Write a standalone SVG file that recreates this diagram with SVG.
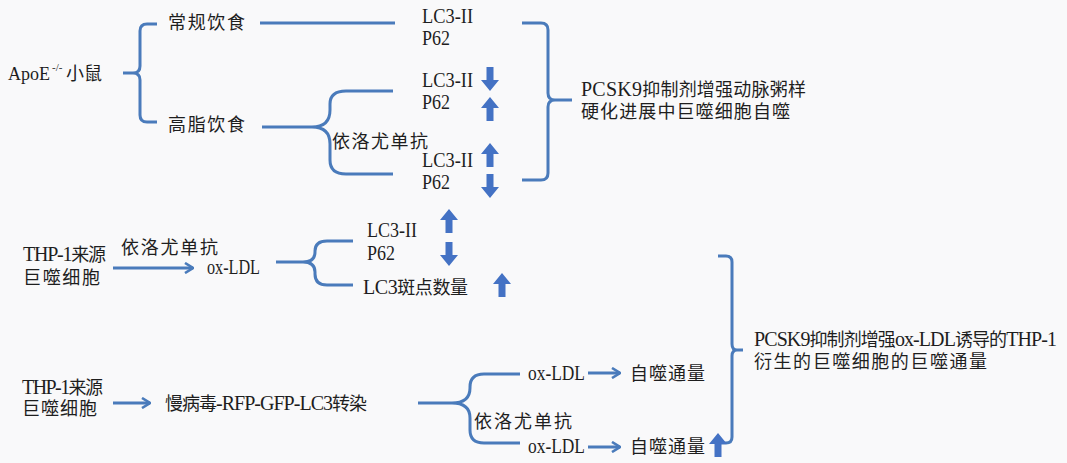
<svg xmlns="http://www.w3.org/2000/svg" width="1067" height="463" viewBox="0 0 1067 463">
<style>
.t{font-family:"Liberation Serif","Noto Sans CJK SC",serif;font-size:18px;fill:#1e1e1e}
.l{font-size:20px}
.br{fill:none;stroke:#4a7bbb;stroke-width:3;stroke-linecap:butt;stroke-linejoin:round}
.ln{fill:none;stroke:#4a7bbb;stroke-width:3}
.blk{fill:#4472c4}
</style>
<defs>
<marker id="chev" viewBox="0 0 10 12" refX="9" refY="6" markerWidth="10" markerHeight="12" markerUnits="userSpaceOnUse" orient="auto">
<path d="M1,1 L9,6 L1,11" fill="none" stroke="#4a7bbb" stroke-width="2.6"/>
</marker>
<path id="up" d="M-9,-1 L0,-12 L9,-1 H3.5 V12 H-3.5 V-1 Z"/>
<path id="down" d="M-9,1 L0,12 L9,1 H3.5 V-12 H-3.5 V1 Z"/>
</defs>
<rect width="1067" height="463" fill="#f9f9fa"/>

<g id="connectors">
<path class="br" d="M157,24 H147 Q140,24 140,31 V66 Q140,73 133,73 H123 M133,73 Q140,73 140,80 V115 Q140,122 147,122 H157"/>
<path class="ln" d="M260,23 H395"/>
<path class="br" d="M262,127 H312 Q330,127 330,110 V104 Q330,91 346,91 H393 M312,127 Q330,127 330,144 V160 Q330,174 346,174 H393"/>
<path class="br" d="M522,23 H541 Q548,23 548,30 V93 Q548,100 555,100 H572 M555,100 Q548,100 548,107 V173 Q548,180 541,180 H522"/>
<path class="ln" d="M113,268 H193" marker-end="url(#chev)"/>
<path class="br" d="M276,262 H303 Q315,262 315,252 V251 Q315,241 327,241 H353 M303,262 Q315,262 315,272 V274 Q315,285 327,285 H353"/>
<path class="ln" d="M113,403 H150" marker-end="url(#chev)"/>
<path class="br" d="M418,403 H452 Q470,403 470,388 V387 Q470,374 484,374 H520 M452,403 Q470,403 470,418 V430 Q470,443 484,443 H520"/>
<path class="ln" d="M588,373 H620" marker-end="url(#chev)"/>
<path class="ln" d="M588,447 H620" marker-end="url(#chev)"/>
<path class="br" d="M718,256 H726 Q732,256 732,262 V344 Q732,350 737,350 H743 M737,350 Q732,350 732,356 V437 Q732,443 726,443 H721"/>
</g>

<g id="arrows">
<use href="#down" class="blk" x="490" y="79"/>
<use href="#up" class="blk" x="490" y="109"/>
<use href="#up" class="blk" x="490" y="155"/>
<use href="#down" class="blk" x="490" y="186"/>
<use href="#up" class="blk" x="449" y="221"/>
<use href="#down" class="blk" x="449" y="254"/>
<use href="#up" class="blk" x="502" y="285"/>
<use href="#up" class="blk" x="718" y="445"/>
</g>

<g id="n-apoe"><text class="t" x="8" y="80">ApoE<tspan x="52" y="71" style="font-size:11px">-/-</tspan><tspan x="66" y="80" textLength="36">小鼠</tspan></text></g>
<g id="n-normal"><text class="t" x="168" y="29" textLength="77">常规饮食</text></g>
<g id="n-highfat"><text class="t" x="168" y="131" textLength="77">高脂饮食</text></g>
<g id="n-evo1"><text class="t" x="332" y="148" textLength="96">依洛尤单抗</text></g>
<g id="n-r1">
<text class="t l" x="422" y="23" textLength="51" lengthAdjust="spacingAndGlyphs">LC3-II</text>
<text class="t l" x="422" y="45" textLength="28" lengthAdjust="spacingAndGlyphs">P62</text>
</g>
<g id="n-r2">
<text class="t l" x="422" y="87" textLength="51" lengthAdjust="spacingAndGlyphs">LC3-II</text>
<text class="t l" x="422" y="109" textLength="28" lengthAdjust="spacingAndGlyphs">P62</text>
</g>
<g id="n-r3">
<text class="t l" x="422" y="167" textLength="51" lengthAdjust="spacingAndGlyphs">LC3-II</text>
<text class="t l" x="422" y="189" textLength="28" lengthAdjust="spacingAndGlyphs">P62</text>
</g>
<g id="n-concl1">
<text class="t" x="581" y="96" textLength="225"><tspan class="l">PCSK9</tspan>抑制剂增强动脉粥样</text>
<text class="t" x="581" y="118" textLength="209">硬化进展中巨噬细胞自噬</text>
</g>

<g id="n-thp1">
<text class="t" x="23" y="261" textLength="83"><tspan class="l">THP-1</tspan>来源</text>
<text class="t" x="23" y="284" textLength="77">巨噬细胞</text>
</g>
<g id="n-evo2"><text class="t" x="121" y="254" textLength="97">依洛尤单抗</text></g>
<g id="n-oxldl1"><text class="t l" x="207" y="274" textLength="53" lengthAdjust="spacingAndGlyphs">ox-LDL</text></g>
<g id="n-r4">
<text class="t l" x="367" y="237" textLength="50" lengthAdjust="spacingAndGlyphs">LC3-II</text>
<text class="t l" x="367" y="260" textLength="28" lengthAdjust="spacingAndGlyphs">P62</text>
<text class="t" x="363" y="294" textLength="105"><tspan class="l">LC3</tspan>斑点数量</text>
</g>

<g id="n-thp2">
<text class="t" x="22" y="394" textLength="81"><tspan class="l">THP-1</tspan>来源</text>
<text class="t" x="22" y="415" textLength="75">巨噬细胞</text>
</g>
<g id="n-lenti"><text class="t" x="165" y="410" textLength="202">慢病毒<tspan class="l">-RFP-GFP-LC3</tspan>转染</text></g>
<g id="n-evo3"><text class="t" x="474" y="428" textLength="98">依洛尤单抗</text></g>
<g id="n-ox2"><text class="t l" x="528" y="380" textLength="57" lengthAdjust="spacingAndGlyphs">ox-LDL</text></g>
<g id="n-flux1"><text class="t" x="630" y="380" textLength="75">自噬通量</text></g>
<g id="n-ox3"><text class="t l" x="528" y="453" textLength="57" lengthAdjust="spacingAndGlyphs">ox-LDL</text></g>
<g id="n-flux2"><text class="t" x="630" y="453" textLength="75">自噬通量</text></g>
<g id="n-concl2">
<text class="t" x="754" y="346" textLength="303"><tspan class="l">PCSK9</tspan>抑制剂增强<tspan class="l">ox-LDL</tspan>诱导的<tspan class="l">THP-1</tspan></text>
<text class="t" x="754" y="368" textLength="233">衍生的巨噬细胞的巨噬通量</text>
</g>
</svg>
